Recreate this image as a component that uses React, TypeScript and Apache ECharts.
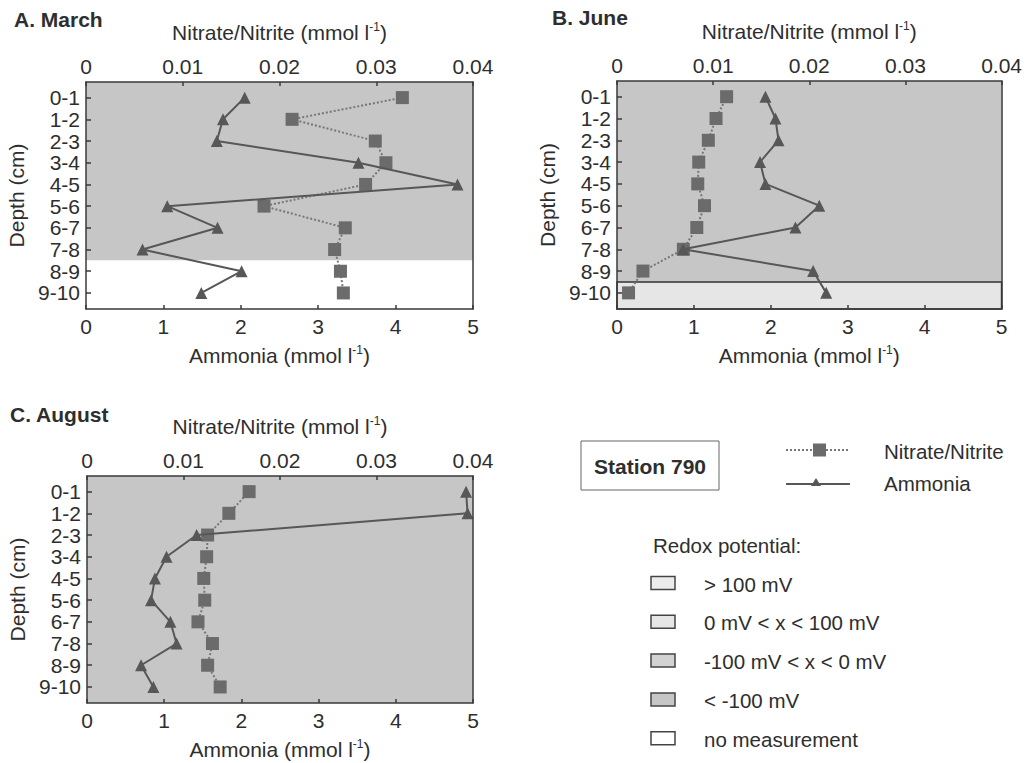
import React, { useEffect, useRef } from "react";
import * as echarts from "echarts";

// ---------- data ----------
const depths = ["0-1", "1-2", "2-3", "3-4", "4-5", "5-6", "6-7", "7-8", "8-9", "9-10"];

const marchNitrate = [0.0327, 0.0213, 0.0299, 0.031, 0.0289, 0.0184, 0.0268, 0.0257, 0.0263, 0.0266];
const marchAmmonia = [2.05, 1.77, 1.69, 3.52, 4.8, 1.05, 1.7, 0.73, 2.01, 1.49];
const marchZones = ["lt-100", "lt-100", "lt-100", "lt-100", "lt-100", "lt-100", "lt-100", "lt-100", "none", "none"];

const juneNitrate = [0.0114, 0.0103, 0.0095, 0.0085, 0.0084, 0.0091, 0.0083, 0.0069, 0.0027, 0.0012];
const juneAmmonia = [1.93, 2.06, 2.1, 1.86, 1.93, 2.63, 2.32, 0.86, 2.55, 2.72];
const juneZones = ["lt-100", "lt-100", "lt-100", "lt-100", "lt-100", "lt-100", "lt-100", "lt-100", "lt-100", "0to100"];

const augNitrate = [0.0168, 0.0147, 0.0125, 0.0124, 0.0121, 0.0122, 0.0115, 0.013, 0.0125, 0.0138];
const augAmmonia = [4.91, 4.93, 1.42, 1.03, 0.88, 0.83, 1.08, 1.16, 0.7, 0.86];
const augZones = ["lt-100", "lt-100", "lt-100", "lt-100", "lt-100", "lt-100", "lt-100", "lt-100", "lt-100", "lt-100"];

const redoxKeys = ["gt100", "0to100", "m100to0", "lt-100", "none"];
const redoxLabels = ["> 100 mV", "0 mV < x < 100 mV", "-100 mV < x < 0 mV", "< -100 mV", "no measurement"];

// ---------- styles ----------
const FONT = '"Liberation Sans", Arial, Helvetica, sans-serif';
const TXT = "#2e2e2e";
const AXIS = "#3a3a3a";
const FS = 21;
const zoneFill: Record<string, string> = {
  gt100: "#ececec",
  "0to100": "#e6e6e6",
  m100to0: "#d2d2d2",
  "lt-100": "#c6c6c6",
  none: "#ffffff",
};
const zoneBorder: Record<string, number> = { gt100: 1.5, "0to100": 1.5, m100to0: 0, "lt-100": 0, none: 0 };

const Y_MIN = -0.72;
const Y_MAX = 9.74;

const panels = [
  { title: "A. March", tl: 14, tt: 9, nitrate: marchNitrate, ammonia: marchAmmonia, zones: marchZones, grid: { left: 86, top: 82, width: 387, height: 227 } },
  { title: "B. June", tl: 552, tt: 7, nitrate: juneNitrate, ammonia: juneAmmonia, zones: juneZones, grid: { left: 617, top: 81, width: 386, height: 228 } },
  { title: "C. August", tl: 10, tt: 404, nitrate: augNitrate, ammonia: augAmmonia, zones: augZones, grid: { left: 87, top: 476, width: 386, height: 227 } },
];

function bandsFrom(zones: string[]) {
  const out: { key: string; from: number; to: number }[] = [];
  let start = 0;
  for (let i = 1; i <= zones.length; i++) {
    if (i === zones.length || zones[i] !== zones[start]) {
      out.push({
        key: zones[start],
        from: start === 0 ? Y_MIN : start - 0.5,
        to: i === zones.length ? Y_MAX : i - 0.5,
      });
      start = i;
    }
  }
  return out;
}

const richName = (main: string) => ({
  name: `{n|${main} (mmol l}{s|-1}{n|)}`,
  nameTextStyle: {
    rich: {
      n: { fontSize: FS, fontFamily: FONT, color: TXT, lineHeight: 23, verticalAlign: "middle" },
      s: { fontSize: 12, fontFamily: FONT, color: TXT, lineHeight: 12, verticalAlign: "top" },
    },
  },
});

function buildOption() {
  const depthIdx = depths.map((_, i) => i);
  const grid: any[] = [];
  const xAxis: any[] = [];
  const yAxis: any[] = [];
  const series: any[] = [];
  const title: any[] = [];

  panels.forEach((p, i) => {
    grid.push({ ...p.grid, containLabel: false });
    title.push({
      text: p.title,
      left: p.tl,
      top: p.tt,
      padding: 0,
      textStyle: { fontFamily: FONT, fontSize: 21, fontWeight: "bold", color: TXT },
    });
    const lineStyle = { color: AXIS, width: 1.5 };
    const labelStyle = { fontFamily: FONT, fontSize: FS, color: TXT };
    // top: nitrate
    xAxis.push({
      gridIndex: i,
      type: "value",
      position: "top",
      min: 0,
      max: 0.04,
      interval: 0.01,
      z: 10,
      axisLine: { show: true, onZero: false, lineStyle },
      axisTick: { show: true, inside: true, length: 4, lineStyle },
      axisLabel: { ...labelStyle, margin: 5, formatter: (v: number) => (v === 0 ? "0" : v.toFixed(2)) },
      splitLine: { show: false },
      nameLocation: "middle",
      nameGap: 38,
      ...richName("Nitrate/Nitrite"),
    });
    // bottom: ammonia
    xAxis.push({
      gridIndex: i,
      type: "value",
      position: "bottom",
      min: 0,
      max: 5,
      interval: 1,
      z: 10,
      axisLine: { show: true, onZero: false, lineStyle },
      axisTick: { show: true, inside: true, length: 4, lineStyle },
      axisLabel: { ...labelStyle, margin: 7 },
      splitLine: { show: false },
      nameLocation: "middle",
      nameGap: 35,
      ...richName("Ammonia"),
    });
    yAxis.push({
      gridIndex: i,
      type: "value",
      inverse: true,
      min: Y_MIN,
      max: Y_MAX,
      z: 10,
      axisLine: { show: true, onZero: false, lineStyle },
      axisTick: { show: true, inside: true, length: 5, customValues: depthIdx, lineStyle },
      axisLabel: { ...labelStyle, margin: 6, customValues: depthIdx, formatter: (v: number) => depths[Math.round(v)] },
      splitLine: { show: false },
      name: "Depth (cm)",
      nameLocation: "middle",
      nameGap: 59,
      nameTextStyle: { fontFamily: FONT, fontSize: FS, color: TXT },
    });
    yAxis.push({
      gridIndex: i,
      type: "value",
      position: "right",
      inverse: true,
      min: Y_MIN,
      max: Y_MAX,
      z: 10,
      axisLine: { show: true, onZero: false, lineStyle },
      axisTick: { show: false },
      axisLabel: { show: false },
      splitLine: { show: false },
    });
    const bands = bandsFrom(p.zones);
    series.push({
      name: "Nitrate/Nitrite",
      type: "line",
      xAxisIndex: i * 2,
      yAxisIndex: i * 2,
      data: p.nitrate.map((v, k) => [v, k]),
      symbol: "rect",
      symbolSize: 13,
      itemStyle: { color: "#6b6b6b" },
      lineStyle: { color: "#777777", width: 2, type: "dotted" },
      z: 3,
      markArea: {
        silent: true,
        data: bands.map((b) => [
          {
            yAxis: b.from,
            itemStyle: {
              color: zoneFill[b.key],
              borderColor: "#333",
              borderWidth: zoneBorder[b.key],
            },
          },
          { yAxis: b.to },
        ]),
      },
    });
    series.push({
      name: "Ammonia",
      type: "line",
      xAxisIndex: i * 2 + 1,
      yAxisIndex: i * 2,
      data: p.ammonia.map((v, k) => [v, k]),
      symbol: "triangle",
      symbolSize: 12,
      itemStyle: { color: "#575757" },
      lineStyle: { color: "#575757", width: 2 },
      z: 4,
    });
  });

  // legend graphics
  const LFS = 20.5;
  const gfx: any[] = [];
  gfx.push({ type: "rect", shape: { x: 581, y: 441, width: 138, height: 49 }, style: { fill: "#fff", stroke: "#666", lineWidth: 1 } });
  gfx.push({
    type: "text",
    x: 650,
    y: 466,
    style: { text: "Station 790", fontFamily: FONT, fontSize: 21, fontWeight: "bold", fill: TXT, align: "center", verticalAlign: "middle" },
  });
  gfx.push({ type: "line", shape: { x1: 786, y1: 450, x2: 850, y2: 450 }, style: { stroke: "#777", lineWidth: 2, lineDash: [2, 2] } });
  gfx.push({ type: "rect", shape: { x: 813, y: 443.5, width: 13, height: 13 }, style: { fill: "#6b6b6b" } });
  gfx.push({ type: "text", x: 884, y: 451, style: { text: "Nitrate/Nitrite", fontFamily: FONT, fontSize: LFS, fill: TXT, verticalAlign: "middle" } });
  gfx.push({ type: "line", shape: { x1: 786, y1: 484, x2: 850, y2: 484 }, style: { stroke: "#575757", lineWidth: 2 } });
  gfx.push({ type: "polygon", shape: { points: [[816, 478], [821, 486], [811, 486]] }, style: { fill: "#575757" } });
  gfx.push({ type: "text", x: 884, y: 483, style: { text: "Ammonia", fontFamily: FONT, fontSize: LFS, fill: TXT, verticalAlign: "middle" } });
  gfx.push({ type: "text", x: 653, y: 545, style: { text: "Redox potential:", fontFamily: FONT, fontSize: LFS, fill: TXT, verticalAlign: "middle" } });
  redoxKeys.forEach((k, j) => {
    const cy = 583 + j * 38.8;
    gfx.push({ type: "rect", shape: { x: 651, y: cy - 6.5, width: 24, height: 13 }, style: { fill: zoneFill[k], stroke: "#444", lineWidth: 1.5 } });
    gfx.push({ type: "text", x: 704, y: cy + 1, style: { text: redoxLabels[j], fontFamily: FONT, fontSize: LFS, fill: TXT, verticalAlign: "middle" } });
  });

  return {
    animation: false,
    backgroundColor: "#ffffff",
    title,
    grid,
    xAxis,
    yAxis,
    series,
    graphic: gfx,
  };
}

export default function App() {
  const ref = useRef<HTMLDivElement>(null);
  useEffect(() => {
    if (!ref.current) return;
    const chart = echarts.init(ref.current, undefined, { renderer: "svg" });
    chart.setOption(buildOption() as any);
    return () => chart.dispose();
  }, []);
  return <div ref={ref} style={{ position: "absolute", left: 0, top: 0, width: 1025, height: 763 }} />;
}
